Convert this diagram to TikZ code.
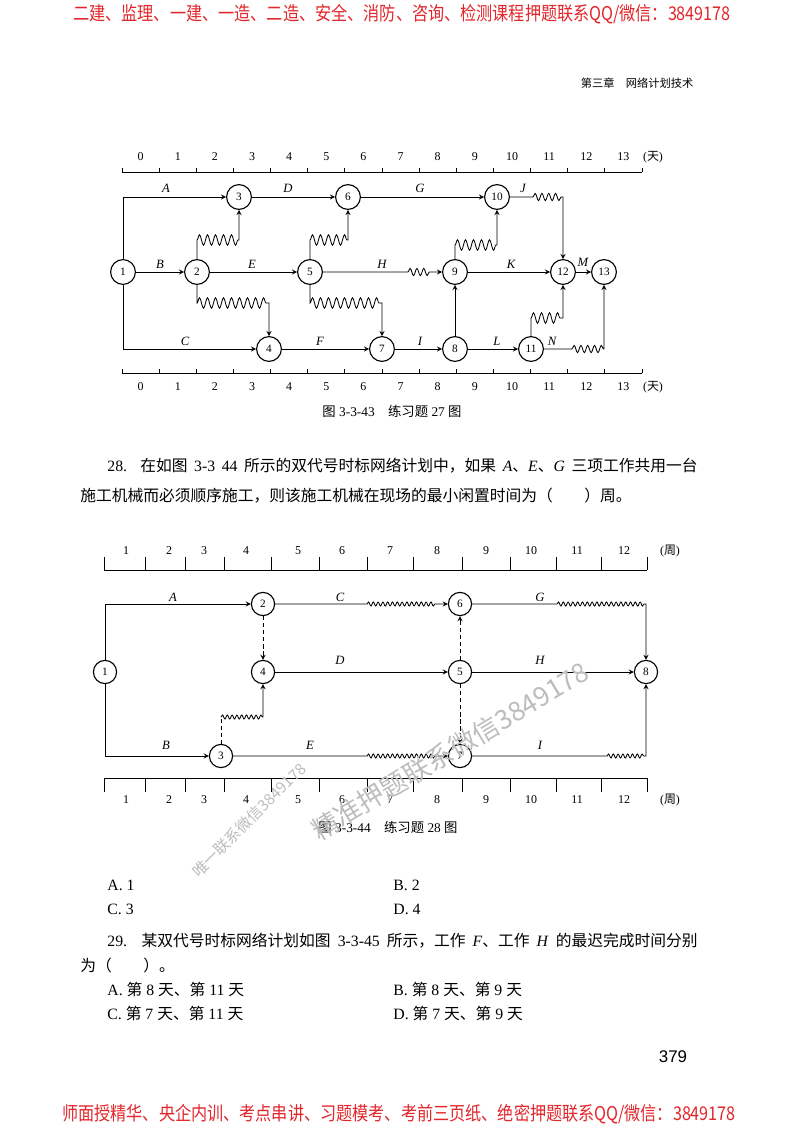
\documentclass[tikz,border=0pt]{standalone}
\usepackage{fontspec}
\setmainfont{Liberation Serif}
\newfontfamily\cjk{Noto Sans CJK SC}
\newfontfamily\pagesans{Liberation Sans}
\usepackage{xcolor}
\usetikzlibrary{decorations.pathmorphing}
\definecolor{adred}{HTML}{E3262B}
\definecolor{markgray}{HTML}{BDBDBD}
\newcommand{\zh}[1]{{\cjk #1}}

\begin{document}
\begin{tikzpicture}[x=0.025cm, y=-0.025cm, >=stealth, semithick,
  evt/.style={circle, draw, line width=0.8pt, minimum size=0.62cm, inner sep=0pt, font=\fontsize{8}{8}\selectfont},
  evtsm/.style={evt, minimum size=0.58cm},
  job/.style={inner sep=0pt, font=\fontsize{9}{9}\selectfont\itshape},
  scalenum/.style={inner sep=0pt, font=\fontsize{8.5}{9}\selectfont},
  bodytext/.style={anchor=west, inner sep=0pt, font=\fontsize{11.2}{13}\selectfont},
  caption/.style={inner sep=0pt, font=\fontsize{9.5}{11}\selectfont},
  banner/.style={inner sep=0pt, text=adred, font=\fontsize{13.5}{15}\selectfont\cjk},
  stamp/.style={inner sep=0pt, text=markgray, font=\cjk},
  wavebig/.style={decoration={snake, amplitude=0.13cm, segment length=0.2cm}},
  wavemid/.style={decoration={snake, amplitude=0.09cm, segment length=0.17cm}},
  wavesm/.style={decoration={snake, amplitude=0.05cm, segment length=0.12cm}}]
\useasboundingbox (0,0) rectangle (800,1132);
\fill[white] (0,0) rectangle (800,1132);

% page head
\node[banner] (headline) at (402,14) {\scalebox{0.85}[1]{二建、监理、一建、一造、二造、安全、消防、咨询、检测课程押题联系QQ/微信：3849178}};
\node[inner sep=0pt, font=\fontsize{8}{9}\selectfont\cjk] (chapter) at (637,83) {第三章\quad 网络计划技术};

% ---- figure 3-3-43 ----
\draw (122,172) -- (642,172);
\foreach \k in {0,...,14} \draw ({122+37.14*\k},172) -- ++(0,-4);
\foreach \k in {0,...,13} \node[scalenum] (tu\k) at ({140.6+37.14*\k},157) {\k};
\node[scalenum] (tuday) at (653,157) {(\zh{天})};
\draw (122,373) -- (642,373);
\foreach \k in {0,...,14} \draw ({122+37.14*\k},373) -- ++(0,-4);
\foreach \k in {0,...,13} \node[scalenum] (td\k) at ({140.6+37.14*\k},387) {\k};
\node[scalenum] (tdday) at (653,387) {(\zh{天})};

\node[evt] (t1) at (123,272) {1};
\node[evt] (t2) at (197,272) {2};
\node[evt] (t3) at (239,197) {3};
\node[evt] (t4) at (269,349) {4};
\node[evt] (t5) at (310,272) {5};
\node[evt] (t6) at (348,197) {6};
\node[evt] (t7) at (382,349) {7};
\node[evt] (t8) at (455,349) {8};
\node[evt] (t9) at (455,272) {9};
\node[evt] (t10) at (497,197) {10};
\node[evt] (t11) at (531,349) {11};
\node[evt] (t12) at (563,272) {12};
\node[evt] (t13) at (604,272) {13};

\coordinate (w1a) at (197,240); \coordinate (w1b) at (239,240);
\coordinate (w2a) at (310,240); \coordinate (w2b) at (348,240);
\coordinate (w3a) at (455,245); \coordinate (w3b) at (497,245);
\coordinate (w4a) at (197,303); \coordinate (w4b) at (269,303);
\coordinate (w5a) at (310,303); \coordinate (w5b) at (382,303);
\coordinate (w6a) at (531,318); \coordinate (w6b) at (563,318);
\coordinate (jw) at (533,197); \coordinate (jc) at (563,197);
\coordinate (hw) at (408,272); \coordinate (hx) at (432,272);
\coordinate (nw) at (572,349); \coordinate (nc) at (604,349);

\draw[->] (t1) |- (t3);
\draw[->] (t3) -- (t6);
\draw[->] (t6) -- (t10);
\draw[->] (t10) -- (jw) decorate[wavemid]{-- (jc)} -- (t12);
\draw[->] (t1) -- (t2);
\draw[->] (t2) -- (t5);
\draw[->] (t5) -- (hw) decorate[wavemid]{-- (hx)} -- (t9);
\draw[->] (t9) -- (t12);
\draw[->] (t12) -- (t13);
\draw[->] (t1) |- (t4);
\draw[->] (t4) -- (t7);
\draw[->] (t7) -- (t8);
\draw[->] (t8) -- (t11);
\draw[->] (t11) -- (nw) decorate[wavemid]{-- (nc)} -- (t13);
\draw[->] (t8) -- (t9);
\draw[->] (t2) -- (w1a) decorate[wavebig]{-- (w1b)} -- (t3);
\draw[->] (t5) -- (w2a) decorate[wavebig]{-- (w2b)} -- (t6);
\draw[->] (t9) -- (w3a) decorate[wavebig]{-- (w3b)} -- (t10);
\draw[->] (t2) -- (w4a) decorate[wavebig]{-- (w4b)} -- (t4);
\draw[->] (t5) -- (w5a) decorate[wavebig]{-- (w5b)} -- (t7);
\draw[->] (t11) -- (w6a) decorate[wavebig]{-- (w6b)} -- (t12);

\node[job] (la) at (166,188) {A};
\node[job] (ld) at (288,188) {D};
\node[job] (lg) at (420,188) {G};
\node[job] (lj) at (523,188) {J};
\node[job] (lb) at (160,264) {B};
\node[job] (le) at (252,264) {E};
\node[job] (lh) at (382,264) {H};
\node[job] (lk) at (511,264) {K};
\node[job] (lm) at (583,262) {M};
\node[job] (lc) at (185,341) {C};
\node[job] (lf) at (320,341) {F};
\node[job] (li) at (420,341) {I};
\node[job] (ll) at (497,341) {L};
\node[job] (ln) at (552,341) {N};

\node[caption] (cap43) at (392,411) {\zh{图} 3-3-43\quad\zh{练习题} 27 \zh{图}};

% question 28
\node[bodytext] (q28a) at (107,466) {\makebox[14.75cm][s]{28. \zh{在如图} 3-3 44 \zh{所示的双代号时标网络计划中，如果} \textit{A}\zh{、}\textit{E}\zh{、}\textit{G} \zh{三项工作共用一台}}};
\node[bodytext] (q28b) at (80,496) {\zh{施工机械而必须顺序施工，则该施工机械在现场的最小闲置时间为（\qquad ）周。}};

% ---- figure 3-3-44 ----
\draw (104,570) -- (647,570);
\foreach \x in {104,145,185,224,271,319,367,413,462,510,556,601,647} \draw (\x,570) -- ++(0,-13);
\draw (104,778) -- (647,778);
\foreach \x in {104,145,185,224,271,319,367,413,462,510,556,601,647} \draw (\x,778) -- ++(0,14);
\foreach \x/\n in {126/1,169/2,204/3,246/4,298/5,342/6,390/7,437/8,486/9,531/10,577/11,624/12} {
  \node[scalenum] (wu\n) at (\x,551) {\n};
  \node[scalenum] (wd\n) at (\x,800) {\n};
}
\node[scalenum] (wuweek) at (670,551) {(\zh{周})};
\node[scalenum] (wdweek) at (670,800) {(\zh{周})};

\node[evtsm] (b1) at (105,672) {1};
\node[evtsm] (b2) at (263,604) {2};
\node[evtsm] (b3) at (221,756) {3};
\node[evtsm] (b4) at (263,672) {4};
\node[evtsm] (b5) at (460,672) {5};
\node[evtsm] (b6) at (460,604) {6};
\node[evtsm] (b7) at (460,756) {7};
\node[evtsm] (b8) at (646,672) {8};

\coordinate (cw) at (367,604); \coordinate (cx) at (436,604);
\coordinate (gw) at (557,604); \coordinate (gc) at (646,604);
\coordinate (ew) at (367,756); \coordinate (ex) at (436,756);
\coordinate (iw) at (607,756); \coordinate (ic) at (646,756);
\coordinate (d3) at (221,717); \coordinate (d4) at (263,717);

\draw[->] (b1) |- (b2);
\draw[->] (b2) -- (cw) decorate[wavesm]{-- (cx)} -- (b6);
\draw[->] (b6) -- (gw) decorate[wavesm]{-- (gc)} -- (b8);
\draw[->, densely dashed] (b2) -- (b4);
\draw[->] (b4) -- (b5);
\draw[->] (b5) -- (b8);
\draw[->, densely dashed] (b5) -- (b6);
\draw[->, densely dashed] (b5) -- (b7);
\draw[->] (b1) |- (b3);
\draw[->] (b3) -- (ew) decorate[wavesm]{-- (ex)} -- (b7);
\draw[->] (b7) -- (iw) decorate[wavesm]{-- (ic)} -- (b8);
\draw[densely dashed] (b3) -- (d3);
\draw[->] (d3) decorate[wavesm]{-- (d4)} -- (b4);

\node[job] (ma) at (173,597) {A};
\node[job] (mc) at (340,597) {C};
\node[job] (mg) at (540,597) {G};
\node[job] (md) at (340,660) {D};
\node[job] (mh) at (540,660) {H};
\node[job] (mb) at (166,745) {B};
\node[job] (me) at (310,745) {E};
\node[job] (mi) at (540,745) {I};

\node[caption] (cap44) at (388,827) {\zh{图} 3-3-44\quad\zh{练习题} 28 \zh{图}};

% answer choices 28
\node[bodytext] (a28) at (107,885) {A. 1};
\node[bodytext] (b28) at (393,885) {B. 2};
\node[bodytext] (c28) at (107,909) {C. 3};
\node[bodytext] (d28) at (393,909) {D. 4};

% question 29
\node[bodytext] (q29a) at (107,941) {\makebox[14.75cm][s]{29. \zh{某双代号时标网络计划如图} 3-3-45 \zh{所示，工作} \textit{F}\zh{、工作} \textit{H} \zh{的最迟完成时间分别}}};
\node[bodytext] (q29b) at (80,966) {\zh{为（\qquad ）。}};
\node[bodytext] (a29) at (107,989) {A. \zh{第} 8 \zh{天、第} 11 \zh{天}};
\node[bodytext] (b29) at (393,989) {B. \zh{第} 8 \zh{天、第} 9 \zh{天}};
\node[bodytext] (c29) at (107,1013) {C. \zh{第} 7 \zh{天、第} 11 \zh{天}};
\node[bodytext] (d29) at (393,1013) {D. \zh{第} 7 \zh{天、第} 9 \zh{天}};

\node[inner sep=0pt, font=\fontsize{12}{12}\selectfont\pagesans] (pageno) at (673,1057) {379};
\node[banner] (footline) at (399,1114) {\scalebox{0.85}[1]{师面授精华、央企内训、考点串讲、习题模考、考前三页纸、绝密押题联系QQ/微信：3849178}};

% watermarks
\node[stamp, font=\fontsize{11}{11}\selectfont\cjk, rotate=45] (mark1) at (249,820) {唯一联系微信3849178};
\node[stamp, font=\fontsize{19}{19}\selectfont\cjk, rotate=31] (mark2) at (450,751) {精准押题联系微信3849178};
\end{tikzpicture}
\end{document}
